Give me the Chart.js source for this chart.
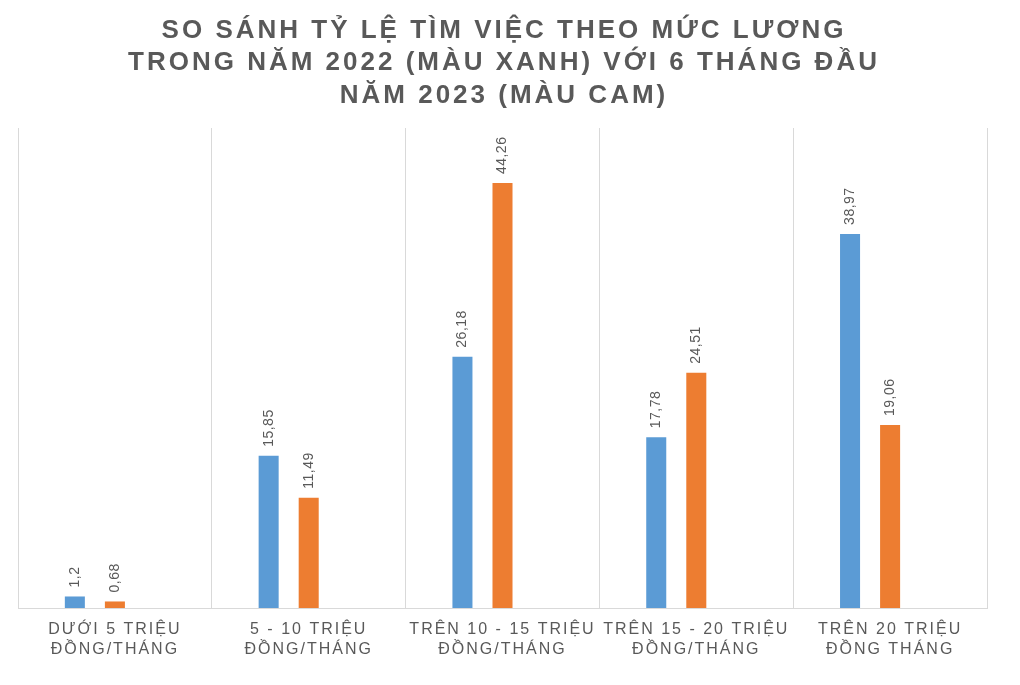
<!DOCTYPE html>
<html>
<head>
<meta charset="utf-8">
<script src="https://cdn.jsdelivr.net/npm/chart.js@4"></script>
<style>
  html, body { margin: 0; padding: 0; background: #fff; }
  #wrap { width: 1020px; height: 685px; }
</style>
</head>
<body>
<div id="wrap"><canvas id="chart"></canvas></div>
<script>
// categories and values
const categories = [
  ['DƯỚI 5 TRIỆU', 'ĐỒNG/THÁNG'],
  ['5 - 10 TRIỆU', 'ĐỒNG/THÁNG'],
  ['TRÊN 10 - 15 TRIỆU', 'ĐỒNG/THÁNG'],
  ['TRÊN 15 - 20 TRIỆU', 'ĐỒNG/THÁNG'],
  ['TRÊN 20 TRIỆU', 'ĐỒNG THÁNG']
];
const values2022 = [1.2, 15.85, 26.18, 17.78, 38.97];
const values2023 = [0.68, 11.49, 44.26, 24.51, 19.06];
const emptySeries = [null, null, null, null, null];
const titleLines = [
  'SO SÁNH TỶ LỆ TÌM VIỆC THEO MỨC LƯƠNG',
  'TRONG NĂM 2022 (MÀU XANH) VỚI 6 THÁNG ĐẦU',
  'NĂM 2023 (MÀU CAM)'
];

const FONT = '"Liberation Sans", Arial, sans-serif';
const GREY = '#595959';

// spaced-out lettering like the office chart (axis labels)
const spacing = {
  id: 'spacing',
  beforeDraw(chart) { chart.ctx.letterSpacing = '2px'; }
};

// title drawn by hand so it can have its own wider letter spacing
const bigTitle = {
  id: 'bigTitle',
  afterDraw(chart) {
    const ctx = chart.ctx;
    const a = chart.chartArea;
    ctx.save();
    ctx.letterSpacing = '3px';
    ctx.font = 'bold 26px ' + FONT;
    ctx.fillStyle = GREY;
    ctx.textAlign = 'center';
    ctx.textBaseline = 'alphabetic';
    const cx = (a.left + a.right) / 2 + 1.5;
    titleLines.forEach((t, i) => ctx.fillText(t, cx, 38 + i * 32.4));
    ctx.restore();
  }
};

// rotated value labels above each bar
const barLabels = {
  id: 'barLabels',
  afterDatasetsDraw(chart) {
    const ctx = chart.ctx;
    ctx.save();
    ctx.letterSpacing = '0.5px';
    ctx.font = '14px ' + FONT;
    ctx.fillStyle = GREY;
    ctx.textAlign = 'left';
    ctx.textBaseline = 'middle';
    [0, 1].forEach(di => {
      const ds = chart.data.datasets[di];
      chart.getDatasetMeta(di).data.forEach((bar, i) => {
        const v = ds.data[i];
        if (v == null) return;
        ctx.save();
        ctx.translate(bar.x, bar.y - 9);
        ctx.rotate(-Math.PI / 2);
        ctx.fillText(String(v).replace('.', ','), 0, 0);
        ctx.restore();
      });
    });
    ctx.restore();
  }
};

new Chart(document.getElementById('chart'), {
  type: 'bar',
  data: {
    labels: categories,
    datasets: [
      { label: '2022', data: values2022, backgroundColor: '#5B9BD5' },
      { label: '6 tháng đầu 2023', data: values2023, backgroundColor: '#ED7D31' },
      { label: '', data: emptySeries, backgroundColor: '#A5A5A5' }
    ]
  },
  options: {
    responsive: true,
    maintainAspectRatio: false,
    animation: false,
    categoryPercentage: 0.62,
    barPercentage: 0.5,
    layout: { padding: { left: 18, right: 33, top: 128, bottom: 13 } },
    plugins: {
      legend: { display: false },
      tooltip: { enabled: false },
      title: { display: false }
    },
    scales: {
      x: {
        offset: true,
        grid: { display: true, offset: true, color: '#D9D9D9', drawTicks: false },
        border: { color: '#D9D9D9' },
        ticks: {
          color: GREY,
          autoSkip: false,
          maxRotation: 0,
          padding: 12,
          font: { family: FONT, size: 16, lineHeight: 1.25 }
        }
      },
      y: { display: false, min: 0, max: 50 }
    }
  },
  plugins: [spacing, barLabels, bigTitle]
});
</script>
</body>
</html>
